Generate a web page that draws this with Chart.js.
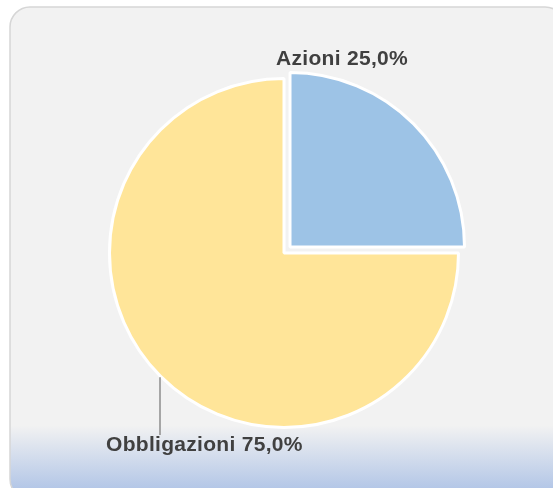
<!DOCTYPE html>
<html>
<head>
<meta charset="utf-8">
<script src="https://cdn.jsdelivr.net/npm/chart.js@4"></script>
<style>
html,body{margin:0;padding:0;background:#ffffff;}
#wrap{width:553px;height:488px;position:relative;}
</style>
</head>
<body>
<div id="wrap"><canvas id="c" width="553" height="488"></canvas></div>
<script>
const categories = ["Azioni", "Obbligazioni"];
const values = [25.0, 75.0];
const colors = ["#9dc3e6", "#ffe599"];
const offsets = [34, 0];

const bgPlugin = {
  id: 'bg',
  beforeDraw(chart) {
    const ctx = chart.ctx;
    const x = 10, y = 7, w = 555, h = 492, r = 20;
    ctx.save();
    ctx.beginPath();
    ctx.moveTo(x + r, y);
    ctx.lineTo(x + w - r, y);
    ctx.arcTo(x + w, y, x + w, y + r, r);
    ctx.lineTo(x + w, y + h - r);
    ctx.arcTo(x + w, y + h, x + w - r, y + h, r);
    ctx.lineTo(x + r, y + h);
    ctx.arcTo(x, y + h, x, y + h - r, r);
    ctx.lineTo(x, y + r);
    ctx.arcTo(x, y, x + r, y, r);
    ctx.closePath();
    const g = ctx.createLinearGradient(0, y, 0, 488);
    g.addColorStop(0, '#f2f2f2');
    g.addColorStop(0.87, '#f2f2f2');
    g.addColorStop(1, '#b4c7e7');
    ctx.fillStyle = g;
    ctx.fill();
    ctx.lineWidth = 1.5;
    ctx.strokeStyle = '#d6d6d6';
    ctx.stroke();
    ctx.restore();
  }
};

const labelPlugin = {
  id: 'labels',
  afterDatasetsDraw(chart) {
    const ctx = chart.ctx;
    const meta = chart.getDatasetMeta(0);
    const total = values.reduce((a, b) => a + b, 0);
    ctx.save();
    ctx.font = 'bold 21px "Liberation Sans", Arial, sans-serif';
    ctx.letterSpacing = '0.3px';
    ctx.fillStyle = '#404040';
    ctx.textBaseline = 'alphabetic';
    ctx.textAlign = 'left';
    const a0 = meta.data[0];
    const p0 = a0.getProps(['x', 'y', 'outerRadius'], true);
    const t0 = categories[0] + ' ' + (values[0] / total * 100).toFixed(1).replace('.', ',') + '%';
    ctx.fillText(t0, p0.x - 8, p0.y - p0.outerRadius - 14);
    const a1 = meta.data[1];
    const p1 = a1.getProps(['x', 'y', 'outerRadius'], true);
    const ang = 2.35;
    const ly = p1.y + Math.sin(ang) * p1.outerRadius;
    ctx.strokeStyle = '#a6a6a6';
    ctx.lineWidth = 2;
    ctx.beginPath();
    ctx.moveTo(160, ly);
    ctx.lineTo(160, 435);
    ctx.stroke();
    const t1 = categories[1] + ' ' + (values[1] / total * 100).toFixed(1).replace('.', ',') + '%';
    ctx.fillText(t1, 106, 451);
    ctx.restore();
  }
};

new Chart(document.getElementById('c'), {
  type: 'pie',
  data: {
    labels: categories,
    datasets: [{
      data: values,
      backgroundColor: colors,
      borderColor: '#ffffff',
      borderWidth: 3,
      offset: offsets
    }]
  },
  options: {
    responsive: false,
    animation: false,
    rotation: 0,
    layout: { padding: { left: 91, right: 76, top: 60, bottom: 42 } },
    plugins: { legend: { display: false }, tooltip: { enabled: false } }
  },
  plugins: [bgPlugin, labelPlugin]
});
</script>
</body>
</html>
